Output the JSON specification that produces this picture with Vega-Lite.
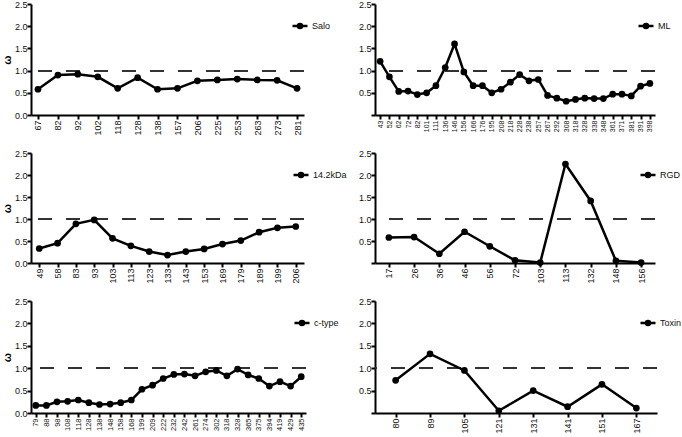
{
  "$schema": "https://vega.github.io/schema/vega-lite/v6.json",
  "background": "white",
  "padding": {"left": 1, "top": 0, "right": 0, "bottom": 0},
  "config": {
    "view": {"stroke": null},
    "font": "Liberation Sans",
    "axis": {"domainColor": "black", "domainWidth": 2, "tickColor": "black", "tickWidth": 2, "tickSize": 4, "grid": false, "labelColor": "#111", "labelFont": "Liberation Sans", "labelPadding": 0, "labelOverlap": false, "labelFlush": false},
    "legend": {"title": null, "orient": "none", "symbolType": "M-1,0H1M-0.27,0A0.27,0.27,0,1,1,0.27,0A0.27,0.27,0,1,1,-0.27,0Z", "symbolSize": 225, "symbolStrokeWidth": 2.5, "symbolFillColor": "black", "symbolStrokeColor": "black", "labelFontSize": 9, "labelFont": "Liberation Sans", "labelColor": "#111", "labelOffset": 3, "padding": 0}
  },
  "resolve": {"scale": {"x": "independent", "y": "independent", "color": "independent"}, "legend": {"color": "independent"}, "axis": {"x": "independent", "y": "independent"}},
  "bounds": "flush",
  "columns": 2,
  "spacing": {"row": 38, "column": 69},
  "concat": [
    {
      "width": 273, "height": 111,
      "data": {"values": [
        {"gene": "Salo", "pos": 67, "omega": 0.58}, {"gene": "Salo", "pos": 82, "omega": 0.90}, {"gene": "Salo", "pos": 92, "omega": 0.92}, {"gene": "Salo", "pos": 102, "omega": 0.86}, {"gene": "Salo", "pos": 118, "omega": 0.60}, {"gene": "Salo", "pos": 128, "omega": 0.84}, {"gene": "Salo", "pos": 138, "omega": 0.58}, {"gene": "Salo", "pos": 157, "omega": 0.60}, {"gene": "Salo", "pos": 206, "omega": 0.77}, {"gene": "Salo", "pos": 225, "omega": 0.79}, {"gene": "Salo", "pos": 253, "omega": 0.81}, {"gene": "Salo", "pos": 263, "omega": 0.79}, {"gene": "Salo", "pos": 273, "omega": 0.78}, {"gene": "Salo", "pos": 281, "omega": 0.60}
      ]},
      "encoding": {
        "y": {"type": "quantitative", "scale": {"domain": [0, 2.5]}, "axis": {"title": "ω", "titleFontSize": 11, "titleFontWeight": "bold", "titlePadding": 2, "values": [0, 0.5, 1, 1.5, 2, 2.5], "format": ".1f", "labelFontSize": 9}}
      },
      "layer": [
        {"mark": {"type": "rule", "strokeDash": [14, 14], "color": "#333", "strokeWidth": 1.2}, "encoding": {"y": {"datum": 1, "type": "quantitative"}}},
        {"mark": {"type": "line", "color": "black", "strokeWidth": 2.5, "point": {"filled": true, "size": 45, "color": "black"}},
         "encoding": {
           "x": {"field": "pos", "type": "ordinal", "scale": {"padding": 0.35}, "axis": {"title": null, "labelAngle": -90, "labelFontSize": 9, "labelPadding": 1}},
           "y": {"field": "omega", "type": "quantitative"},
           "color": {"field": "gene", "type": "nominal", "scale": {"range": ["black"]}, "legend": {"legendX": 260, "legendY": 13}}
         }}
      ]
    },
    {
      "width": 280, "height": 111,
      "data": {"values": [
        {"gene": "ML", "pos": 43, "omega": 1.21}, {"gene": "ML", "pos": 52, "omega": 0.86}, {"gene": "ML", "pos": 62, "omega": 0.53}, {"gene": "ML", "pos": 72, "omega": 0.54}, {"gene": "ML", "pos": 82, "omega": 0.46}, {"gene": "ML", "pos": 101, "omega": 0.50}, {"gene": "ML", "pos": 111, "omega": 0.66}, {"gene": "ML", "pos": 136, "omega": 1.07}, {"gene": "ML", "pos": 146, "omega": 1.60}, {"gene": "ML", "pos": 156, "omega": 0.97}, {"gene": "ML", "pos": 166, "omega": 0.66}, {"gene": "ML", "pos": 176, "omega": 0.66}, {"gene": "ML", "pos": 195, "omega": 0.50}, {"gene": "ML", "pos": 208, "omega": 0.58}, {"gene": "ML", "pos": 218, "omega": 0.74}, {"gene": "ML", "pos": 228, "omega": 0.91}, {"gene": "ML", "pos": 238, "omega": 0.77}, {"gene": "ML", "pos": 257, "omega": 0.80}, {"gene": "ML", "pos": 267, "omega": 0.44}, {"gene": "ML", "pos": 292, "omega": 0.38}, {"gene": "ML", "pos": 308, "omega": 0.31}, {"gene": "ML", "pos": 318, "omega": 0.35}, {"gene": "ML", "pos": 328, "omega": 0.38}, {"gene": "ML", "pos": 338, "omega": 0.37}, {"gene": "ML", "pos": 348, "omega": 0.37}, {"gene": "ML", "pos": 361, "omega": 0.47}, {"gene": "ML", "pos": 371, "omega": 0.47}, {"gene": "ML", "pos": 381, "omega": 0.43}, {"gene": "ML", "pos": 391, "omega": 0.65}, {"gene": "ML", "pos": 398, "omega": 0.71}
      ]},
      "encoding": {
        "y": {"type": "quantitative", "scale": {"domain": [0, 2.5]}, "axis": {"title": null, "values": [0, 0.5, 1, 1.5, 2, 2.5], "format": ".1f", "labelFontSize": 9, "labelExpr": "datum.value == 0 ? '' : datum.label"}}
      },
      "layer": [
        {"mark": {"type": "rule", "strokeDash": [14, 14], "color": "#333", "strokeWidth": 1.2}, "encoding": {"y": {"datum": 1, "type": "quantitative"}}},
        {"mark": {"type": "line", "color": "black", "strokeWidth": 2.5, "point": {"filled": true, "size": 45, "color": "black"}},
         "encoding": {
           "x": {"field": "pos", "type": "ordinal", "scale": {"padding": 0.55}, "axis": {"title": null, "labelAngle": -90, "labelFontSize": 7, "labelPadding": 1}},
           "y": {"field": "omega", "type": "quantitative"},
           "color": {"field": "gene", "type": "nominal", "scale": {"range": ["black"]}, "legend": {"legendX": 262, "legendY": 13}}
         }}
      ]
    },
    {
      "width": 273, "height": 110,
      "data": {"values": [
        {"gene": "14.2kDa", "pos": 49, "omega": 0.33}, {"gene": "14.2kDa", "pos": 58, "omega": 0.45}, {"gene": "14.2kDa", "pos": 83, "omega": 0.89}, {"gene": "14.2kDa", "pos": 93, "omega": 0.98}, {"gene": "14.2kDa", "pos": 103, "omega": 0.56}, {"gene": "14.2kDa", "pos": 113, "omega": 0.39}, {"gene": "14.2kDa", "pos": 123, "omega": 0.26}, {"gene": "14.2kDa", "pos": 133, "omega": 0.18}, {"gene": "14.2kDa", "pos": 143, "omega": 0.26}, {"gene": "14.2kDa", "pos": 153, "omega": 0.32}, {"gene": "14.2kDa", "pos": 169, "omega": 0.43}, {"gene": "14.2kDa", "pos": 179, "omega": 0.51}, {"gene": "14.2kDa", "pos": 189, "omega": 0.70}, {"gene": "14.2kDa", "pos": 199, "omega": 0.80}, {"gene": "14.2kDa", "pos": 206, "omega": 0.83}
      ]},
      "encoding": {
        "y": {"type": "quantitative", "scale": {"domain": [0, 2.5]}, "axis": {"title": "ω", "titleFontSize": 11, "titleFontWeight": "bold", "titlePadding": 2, "values": [0, 0.5, 1, 1.5, 2, 2.5], "format": ".1f", "labelFontSize": 9}}
      },
      "layer": [
        {"mark": {"type": "rule", "strokeDash": [14, 14], "color": "#333", "strokeWidth": 1.2}, "encoding": {"y": {"datum": 1, "type": "quantitative"}}},
        {"mark": {"type": "line", "color": "black", "strokeWidth": 2.5, "point": {"filled": true, "size": 45, "color": "black"}},
         "encoding": {
           "x": {"field": "pos", "type": "ordinal", "scale": {"padding": 0.45}, "axis": {"title": null, "labelAngle": -90, "labelFontSize": 9, "labelPadding": 1}},
           "y": {"field": "omega", "type": "quantitative"},
           "color": {"field": "gene", "type": "nominal", "scale": {"range": ["black"]}, "legend": {"legendX": 261, "legendY": 13}}
         }}
      ]
    },
    {
      "width": 280, "height": 110,
      "data": {"values": [
        {"gene": "RGD", "pos": 17, "omega": 0.58}, {"gene": "RGD", "pos": 26, "omega": 0.59}, {"gene": "RGD", "pos": 36, "omega": 0.21}, {"gene": "RGD", "pos": 46, "omega": 0.71}, {"gene": "RGD", "pos": 56, "omega": 0.38}, {"gene": "RGD", "pos": 72, "omega": 0.06}, {"gene": "RGD", "pos": 103, "omega": 0.01}, {"gene": "RGD", "pos": 113, "omega": 2.25}, {"gene": "RGD", "pos": 132, "omega": 1.41}, {"gene": "RGD", "pos": 148, "omega": 0.05}, {"gene": "RGD", "pos": 156, "omega": 0.01}
      ]},
      "encoding": {
        "y": {"type": "quantitative", "scale": {"domain": [0, 2.5]}, "axis": {"title": null, "values": [0, 0.5, 1, 1.5, 2, 2.5], "format": ".1f", "labelFontSize": 9, "labelExpr": "datum.value == 0 ? '' : datum.label"}}
      },
      "layer": [
        {"mark": {"type": "rule", "strokeDash": [14, 14], "color": "#333", "strokeWidth": 1.2}, "encoding": {"y": {"datum": 1, "type": "quantitative"}}},
        {"mark": {"type": "line", "color": "black", "strokeWidth": 2.5, "point": {"filled": true, "size": 45, "color": "black"}},
         "encoding": {
           "x": {"field": "pos", "type": "ordinal", "scale": {"padding": 0.55}, "axis": {"title": null, "labelAngle": -90, "labelFontSize": 9, "labelPadding": 1}},
           "y": {"field": "omega", "type": "quantitative"},
           "color": {"field": "gene", "type": "nominal", "scale": {"range": ["black"]}, "legend": {"legendX": 264, "legendY": 13}}
         }}
      ]
    },
    {
      "width": 275, "height": 112,
      "data": {"values": [
        {"gene": "c-type", "pos": 79, "omega": 0.17}, {"gene": "c-type", "pos": 88, "omega": 0.17}, {"gene": "c-type", "pos": 98, "omega": 0.25}, {"gene": "c-type", "pos": 108, "omega": 0.26}, {"gene": "c-type", "pos": 118, "omega": 0.29}, {"gene": "c-type", "pos": 128, "omega": 0.23}, {"gene": "c-type", "pos": 138, "omega": 0.19}, {"gene": "c-type", "pos": 148, "omega": 0.20}, {"gene": "c-type", "pos": 158, "omega": 0.23}, {"gene": "c-type", "pos": 168, "omega": 0.29}, {"gene": "c-type", "pos": 199, "omega": 0.53}, {"gene": "c-type", "pos": 209, "omega": 0.62}, {"gene": "c-type", "pos": 222, "omega": 0.77}, {"gene": "c-type", "pos": 232, "omega": 0.86}, {"gene": "c-type", "pos": 242, "omega": 0.87}, {"gene": "c-type", "pos": 261, "omega": 0.83}, {"gene": "c-type", "pos": 274, "omega": 0.92}, {"gene": "c-type", "pos": 302, "omega": 0.95}, {"gene": "c-type", "pos": 318, "omega": 0.83}, {"gene": "c-type", "pos": 328, "omega": 0.98}, {"gene": "c-type", "pos": 365, "omega": 0.85}, {"gene": "c-type", "pos": 375, "omega": 0.77}, {"gene": "c-type", "pos": 394, "omega": 0.60}, {"gene": "c-type", "pos": 419, "omega": 0.70}, {"gene": "c-type", "pos": 429, "omega": 0.60}, {"gene": "c-type", "pos": 435, "omega": 0.81}
      ]},
      "encoding": {
        "y": {"type": "quantitative", "scale": {"domain": [0, 2.5]}, "axis": {"title": "ω", "titleFontSize": 11, "titleFontWeight": "bold", "titlePadding": 2, "values": [0, 0.5, 1, 1.5, 2, 2.5], "format": ".1f", "labelFontSize": 9}}
      },
      "layer": [
        {"mark": {"type": "rule", "strokeDash": [14, 14], "color": "#333", "strokeWidth": 1.2}, "encoding": {"y": {"datum": 1, "type": "quantitative"}}},
        {"mark": {"type": "line", "color": "black", "strokeWidth": 2.5, "point": {"filled": true, "size": 45, "color": "black"}},
         "encoding": {
           "x": {"field": "pos", "type": "ordinal", "scale": {"padding": 0.45}, "axis": {"title": null, "labelAngle": -90, "labelFontSize": 7.5, "labelPadding": 1}},
           "y": {"field": "omega", "type": "quantitative"},
           "color": {"field": "gene", "type": "nominal", "scale": {"range": ["black"]}, "legend": {"legendX": 262, "legendY": 13}}
         }}
      ]
    },
    {
      "width": 282, "height": 112,
      "data": {"values": [
        {"gene": "Toxin", "pos": 80, "omega": 0.73}, {"gene": "Toxin", "pos": 89, "omega": 1.32}, {"gene": "Toxin", "pos": 105, "omega": 0.95}, {"gene": "Toxin", "pos": 121, "omega": 0.05}, {"gene": "Toxin", "pos": 131, "omega": 0.50}, {"gene": "Toxin", "pos": 141, "omega": 0.14}, {"gene": "Toxin", "pos": 151, "omega": 0.64}, {"gene": "Toxin", "pos": 167, "omega": 0.11}
      ]},
      "encoding": {
        "y": {"type": "quantitative", "scale": {"domain": [0, 2.5]}, "axis": {"title": null, "values": [0, 0.5, 1, 1.5, 2, 2.5], "format": ".1f", "labelFontSize": 9, "labelExpr": "datum.value == 0 ? '' : datum.label"}}
      },
      "layer": [
        {"mark": {"type": "rule", "strokeDash": [14, 14], "color": "#333", "strokeWidth": 1.2}, "encoding": {"y": {"datum": 1, "type": "quantitative"}}},
        {"mark": {"type": "line", "color": "black", "strokeWidth": 2.5, "point": {"filled": true, "size": 45, "color": "black"}},
         "encoding": {
           "x": {"field": "pos", "type": "ordinal", "scale": {"padding": 0.6}, "axis": {"title": null, "labelAngle": -90, "labelFontSize": 9, "labelPadding": 1}},
           "y": {"field": "omega", "type": "quantitative"},
           "color": {"field": "gene", "type": "nominal", "scale": {"range": ["black"]}, "legend": {"legendX": 264, "legendY": 13}}
         }}
      ]
    }
  ]
}
